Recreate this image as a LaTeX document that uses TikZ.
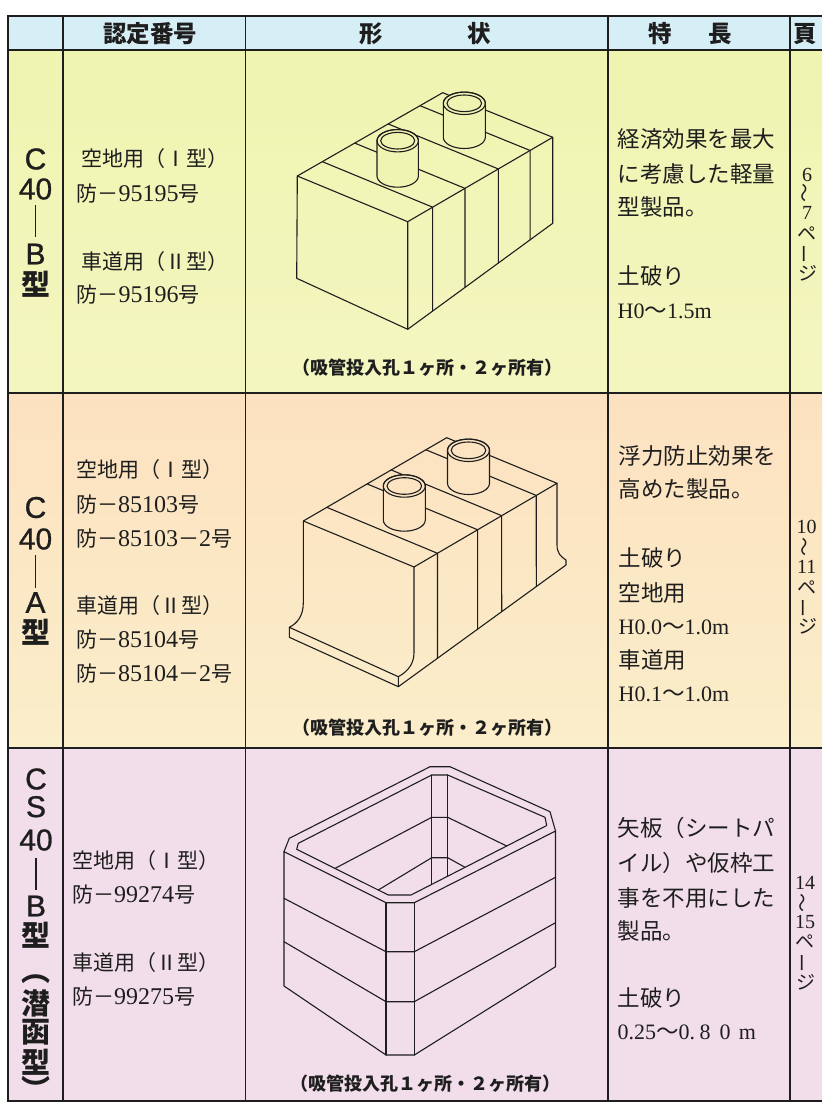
\documentclass[tikz,border=0pt]{standalone}
\usepackage{fontspec}
\newfontfamily\cjk{Noto Sans CJK JP}
\newfontfamily\ser{Liberation Serif}
\newfontfamily\hel{Liberation Sans}[FakeBold=1]
\usetikzlibrary{calc}
\definecolor{hdr}{RGB}{214,238,246}
\definecolor{rowA}{RGB}{239,244,176}
\definecolor{rowAb}{RGB}{244,246,192}
\definecolor{rowB}{RGB}{252,225,192}
\definecolor{rowBb}{RGB}{251,238,202}
\definecolor{rowC}{RGB}{242,222,234}
\definecolor{ink}{RGB}{30,30,30}
\newcommand{\D}[1]{{\ser\fontsize{24}{24}\selectfont #1}}
\newcommand{\E}[1]{{\ser\fontsize{22}{22}\selectfont #1}}
\newcommand{\cylinder}[8]{%
  \filldraw[ln, fill=#8] ({#1-#4},#2) -- ({#1-#4},#3)
    arc[start angle=180,end angle=360,x radius=#4pt,y radius=#5pt]
    -- ({#1+#4},#2)
    arc[start angle=0,end angle=180,x radius=#4pt,y radius=#5pt] -- cycle;
  \draw[ln] (#1,#2) ellipse[x radius=#4pt, y radius=#5pt];
  \draw[ln] (#1,#2) ellipse[x radius=#6pt, y radius=#7pt];}
\tikzset{
  gridln/.style={draw=ink, line width=1.4pt},
  ln/.style={draw=ink, line width=1.1pt, line join=round, line cap=round},
  lbl/.style={inner sep=0pt, font=\hel\fontsize{30}{30}\selectfont, text=ink},
  lblj/.style={inner sep=0pt, font=\cjk\bfseries\fontsize{29}{29}\selectfont, text=ink},
  num/.style={inner sep=0pt, anchor=west, font=\cjk\fontsize{21}{21}\selectfont, text=ink},
  feat/.style={inner sep=0pt, anchor=west, font=\cjk\fontsize{22.5}{22.5}\selectfont, text=ink},
  pgn/.style={inner sep=0pt, font=\ser\fontsize{20}{20}\selectfont, text=ink},
  pgj/.style={inner sep=0pt, font=\cjk\fontsize{19}{19}\selectfont, text=ink},
  hd/.style={inner sep=0pt, font=\cjk\bfseries\fontsize{23.5}{23.5}\selectfont, text=ink},
  capt/.style={inner sep=0pt, font=\cjk\bfseries\fontsize{18}{18}\selectfont, text=ink},
}
\begin{document}
\begin{tikzpicture}[x=1pt,y=-1pt]
\useasboundingbox (0,0) rectangle (822,1105);
\fill[white] (0,0) rectangle (822,1105);
\fill[hdr] (8,16) rectangle (822,50);
\shade[top color=rowA, bottom color=rowAb] (8,50) rectangle (822,393);
\shade[top color=rowB, bottom color=rowBb] (8,393) rectangle (822,748);
\fill[rowC] (8,748) rectangle (822,1101);
% grid
\draw[gridln] (822,16) -- (8,16) -- (8,1101) -- (822,1101);
\draw[gridln] (8,50) -- (822,50);
\draw[gridln] (8,393) -- (822,393);
\draw[gridln] (8,748) -- (822,748);
\foreach \x in {63,245.5,608,790} \draw[gridln] (\x,16) -- (\x,1101);
% header
\node[hd] (h1) at (150,34) {認定番号};
\node[hd] (h2) at (371,34) {形};
\node[hd] (h3) at (479,34) {状};
\node[hd] (h4) at (660,34) {特};
\node[hd] (h5) at (720,34) {長};
\node[hd] (h6) at (805,34) {頁};
% ===== row 1 =====
\node[lbl] (r1c) at (35.5,159) {C};
\node[lbl] (r1n) at (35.5,189) {40};
\draw[ink, line width=1.3pt] (35.5,205) -- (35.5,236.7);
\node[lbl] (r1b) at (35.5,254) {B};
\node[lblj] (r1k) at (35.5,284) {型};
\node[num] (r1a1) at (81.5,159) {空地用（Ⅰ型）};
\node[num] (r1a2) at (76.5,194) {防－\D{95195}号};
\node[num] (r1a3) at (81.5,261.7) {車道用（Ⅱ型）};
\node[num] (r1a4) at (76.5,295) {防－\D{95196}号};
\node[feat] (r1f1) at (617.5,139) {経済効果を最大};
\node[feat] (r1f2) at (617.5,174) {に考慮した軽量};
\node[feat] (r1f3) at (617.5,207) {型製品。};
\node[feat] (r1f4) at (617.5,276) {土破り};
\node[feat] (r1f5) at (617.5,311) {\E{H0}～\E{1.5m}};
\node[pgn] (p1a) at (807,175) {6};
\node[pgj, rotate=90] (p1b) at (807,193.3) {〜};
\node[pgn] (p1c) at (807,213.3) {7};
\node[pgj] (p1d) at (807,233.3) {ペ};
\node[pgj, rotate=90] (p1e) at (807,254) {ー};
\node[pgj] (p1f) at (808,273.3) {ジ};
\node[capt] (cp1) at (427.5,368) {（吸管投入孔１ヶ所・２ヶ所有）};
% box 1
\coordinate (A) at (297.3,176);
\coordinate (B) at (407.7,221.7);
\coordinate (C) at (296.7,278.3);
\coordinate (D) at (407.7,329.3);
\coordinate (E) at (552.7,137.3);
\coordinate (F) at (552.7,223.3);
\coordinate (G) at (442.7,92.7);
\draw[ln] (A) -- (B) -- (D) -- (C) -- cycle;
\draw[ln] (B) -- (E) -- (F) -- (D);
\draw[ln] (A) -- (G) -- (E);
\foreach \t in {0.172,0.395,0.625,0.844}
  \draw[ln] ($(A)!\t!(G)$) -- ($(B)!\t!(E)$) -- ($(D)!\t!(F)$);
\cylinder{397.7}{140.7}{176}{20.7}{11.2}{17}{8.3}{rowA!85!rowAb}
\cylinder{464.3}{103.3}{137.3}{21}{11.2}{17.3}{8.3}{rowA!90!rowAb}
% ===== row 2 =====
\node[lbl] (r2c) at (35.5,507.5) {C};
\node[lbl] (r2n) at (35.5,539) {40};
\draw[ink, line width=1.3pt] (35.5,555) -- (35.5,588);
\node[lbl] (r2b) at (35.5,602.5) {A};
\node[lblj] (r2k) at (35.5,632) {型};
\node[num] (r2a1) at (76,470) {空地用（Ⅰ型）};
\node[num] (r2a2) at (76,505) {防－\D{85103}号};
\node[num] (r2a3) at (76,538.3) {防－\D{85103}－\D{2}号};
\node[num] (r2a4) at (76,605.8) {車道用（Ⅱ型）};
\node[num] (r2a5) at (76,640) {防－\D{85104}号};
\node[num] (r2a6) at (76,673.3) {防－\D{85104}－\D{2}号};
\node[feat] (r2f1) at (618.5,455.8) {浮力防止効果を};
\node[feat] (r2f2) at (618.5,489) {高めた製品。};
\node[feat] (r2f3) at (618.5,558) {土破り};
\node[feat] (r2f4) at (618.5,592.5) {空地用};
\node[feat] (r2f5) at (618.5,627.5) {\E{H0.0}～\E{1.0m}};
\node[feat] (r2f6) at (618.5,660) {車道用};
\node[feat] (r2f7) at (618.5,694) {\E{H0.1}～\E{1.0m}};
\node[pgn] (p2a) at (806.7,526.7) {10};
\node[pgj, rotate=90] (p2b) at (806.7,546.7) {〜};
\node[pgn] (p2c) at (806.7,566.7) {11};
\node[pgj] (p2d) at (806.7,587.5) {ペ};
\node[pgj, rotate=90] (p2e) at (806.7,608) {ー};
\node[pgj] (p2f) at (807.5,626.7) {ジ};
\node[capt] (cp2) at (427.5,728) {（吸管投入孔１ヶ所・２ヶ所有）};
% box 2
\coordinate (A2) at (303.3,521);
\coordinate (B2) at (414,567);
\coordinate (E2) at (557,483.3);
\coordinate (G2) at (446.7,437.7);
\draw[ln] (A2) -- (B2) -- (E2) -- (G2) -- cycle;
\draw[ln] (A2) -- (303.3,603) .. controls (303.3,616) and (297,623.5) .. (289.3,627.3)
   -- (398.3,676.7) .. controls (405,673) and (414,666) .. (414,653) -- (B2);
\draw[ln] (289.3,627.3) -- (289.3,637.3) -- (398.3,686.7) -- (398.3,676.7);
\draw[ln] (398.3,686.7) -- (566,565) -- (566,560) .. controls (561,557) and (557,553) .. (557,545) -- (E2);
\foreach \t/\bx/\by in {0.164/437.5/658.3, 0.445/477.6/629.2, 0.613/501.7/611.7, 0.855/536.3/586.5}
  \draw[ln] ($(A2)!\t!(G2)$) -- ($(B2)!\t!(E2)$) -- (\bx,\by);
\cylinder{404.3}{486}{520}{21}{11.2}{17.3}{8.3}{rowB!78!rowBb}
\cylinder{468.5}{450.3}{483.3}{21}{11.2}{17.3}{8.3}{rowB!82!rowBb}
% ===== row 3 =====
\node[lbl] (r3c) at (36,779) {C};
\node[lbl] (r3s) at (36,806.7) {S};
\node[lbl] (r3n) at (36,840) {40};
\draw[ink, line width=1.3pt] (36,858.3) -- (36,890);
\node[lbl] (r3b) at (36,906) {B};
\node[lblj] (r3k) at (36,935) {型};
\node[lblj] (r3p) at (36,979) {︵};
\node[lblj] (r3m) at (36,1003) {潜};
\node[lblj] (r3h) at (36,1032.5) {函};
\node[lblj] (r3k2) at (36,1062) {型};
\node[lblj] (r3q) at (36,1088.5) {︶};
\node[num] (r3a1) at (72,860.8) {空地用（Ⅰ型）};
\node[num] (r3a2) at (72,895) {防－\D{99274}号};
\node[num] (r3a3) at (72,962.5) {車道用（Ⅱ型）};
\node[num] (r3a4) at (72,996.7) {防－\D{99275}号};
\node[feat] (r3f1) at (617.5,827.5) {矢板（シートパ};
\node[feat] (r3f2) at (617.5,862.5) {イル）や仮枠工};
\node[feat] (r3f3) at (617.5,897.5) {事を不用にした};
\node[feat] (r3f4) at (617.5,930.8) {製品。};
\node[feat] (r3f5) at (617.5,998.3) {土破り};
\node[feat] (r3f6) at (617.5,1032.5) {\E{0.25}～\E{0.}\makebox[20pt]{\E{8}}\makebox[20pt]{\E{0}}\E{\,m}};
\node[pgn] (p3a) at (805,883.3) {14};
\node[pgj, rotate=90] (p3b) at (805,902.5) {〜};
\node[pgn] (p3c) at (805,921.7) {15};
\node[pgj] (p3d) at (805,941.7) {ペ};
\node[pgj, rotate=90] (p3e) at (805,962.5) {ー};
\node[pgj] (p3f) at (806,982.5) {ジ};
\node[capt] (cp3) at (425,1083.3) {（吸管投入孔１ヶ所・２ヶ所有）};
% box 3
\draw[ln] (284,851.7) -- (289.3,838.3) -- (430,766.7) -- (450,766.7) -- (550,811.7) -- (555.5,831);
\draw[ln] (284,851.7) -- (284,986) -- (386,1055) -- (414.3,1055) -- (555.5,966.7) -- (555.5,831)
   -- (414.3,902.7) -- (386,902.7) -- cycle;
\draw[ln] (386,902.7) -- (386,1055);
\draw[ln] (414.3,902.7) -- (414.3,1055);
\draw[ln] (284,898.3) -- (386,951.7) -- (414.3,951.7) -- (555.5,877.3);
\draw[ln] (284,941.7) -- (386,1001.7) -- (414.3,1001.7) -- (555.5,922.7);
\draw[ln] (388.3,895) -- (296.7,849.3) -- (298.3,843.3) -- (431.7,775) -- (447.7,775)
   -- (545,817.3) -- (546.7,825.5) -- (411,895) -- cycle;
\draw[ln] (431.7,775) -- (431.7,884.4);
\draw[ln] (447.7,775) -- (447.7,876.2);
\draw[ln] (335,868.4) -- (431.7,817.3) -- (447.7,817.3) -- (506.7,846);
\draw[ln] (378.3,890) -- (431.7,857.7) -- (447.7,857.7) -- (465,867.3);
\end{tikzpicture}
\end{document}
